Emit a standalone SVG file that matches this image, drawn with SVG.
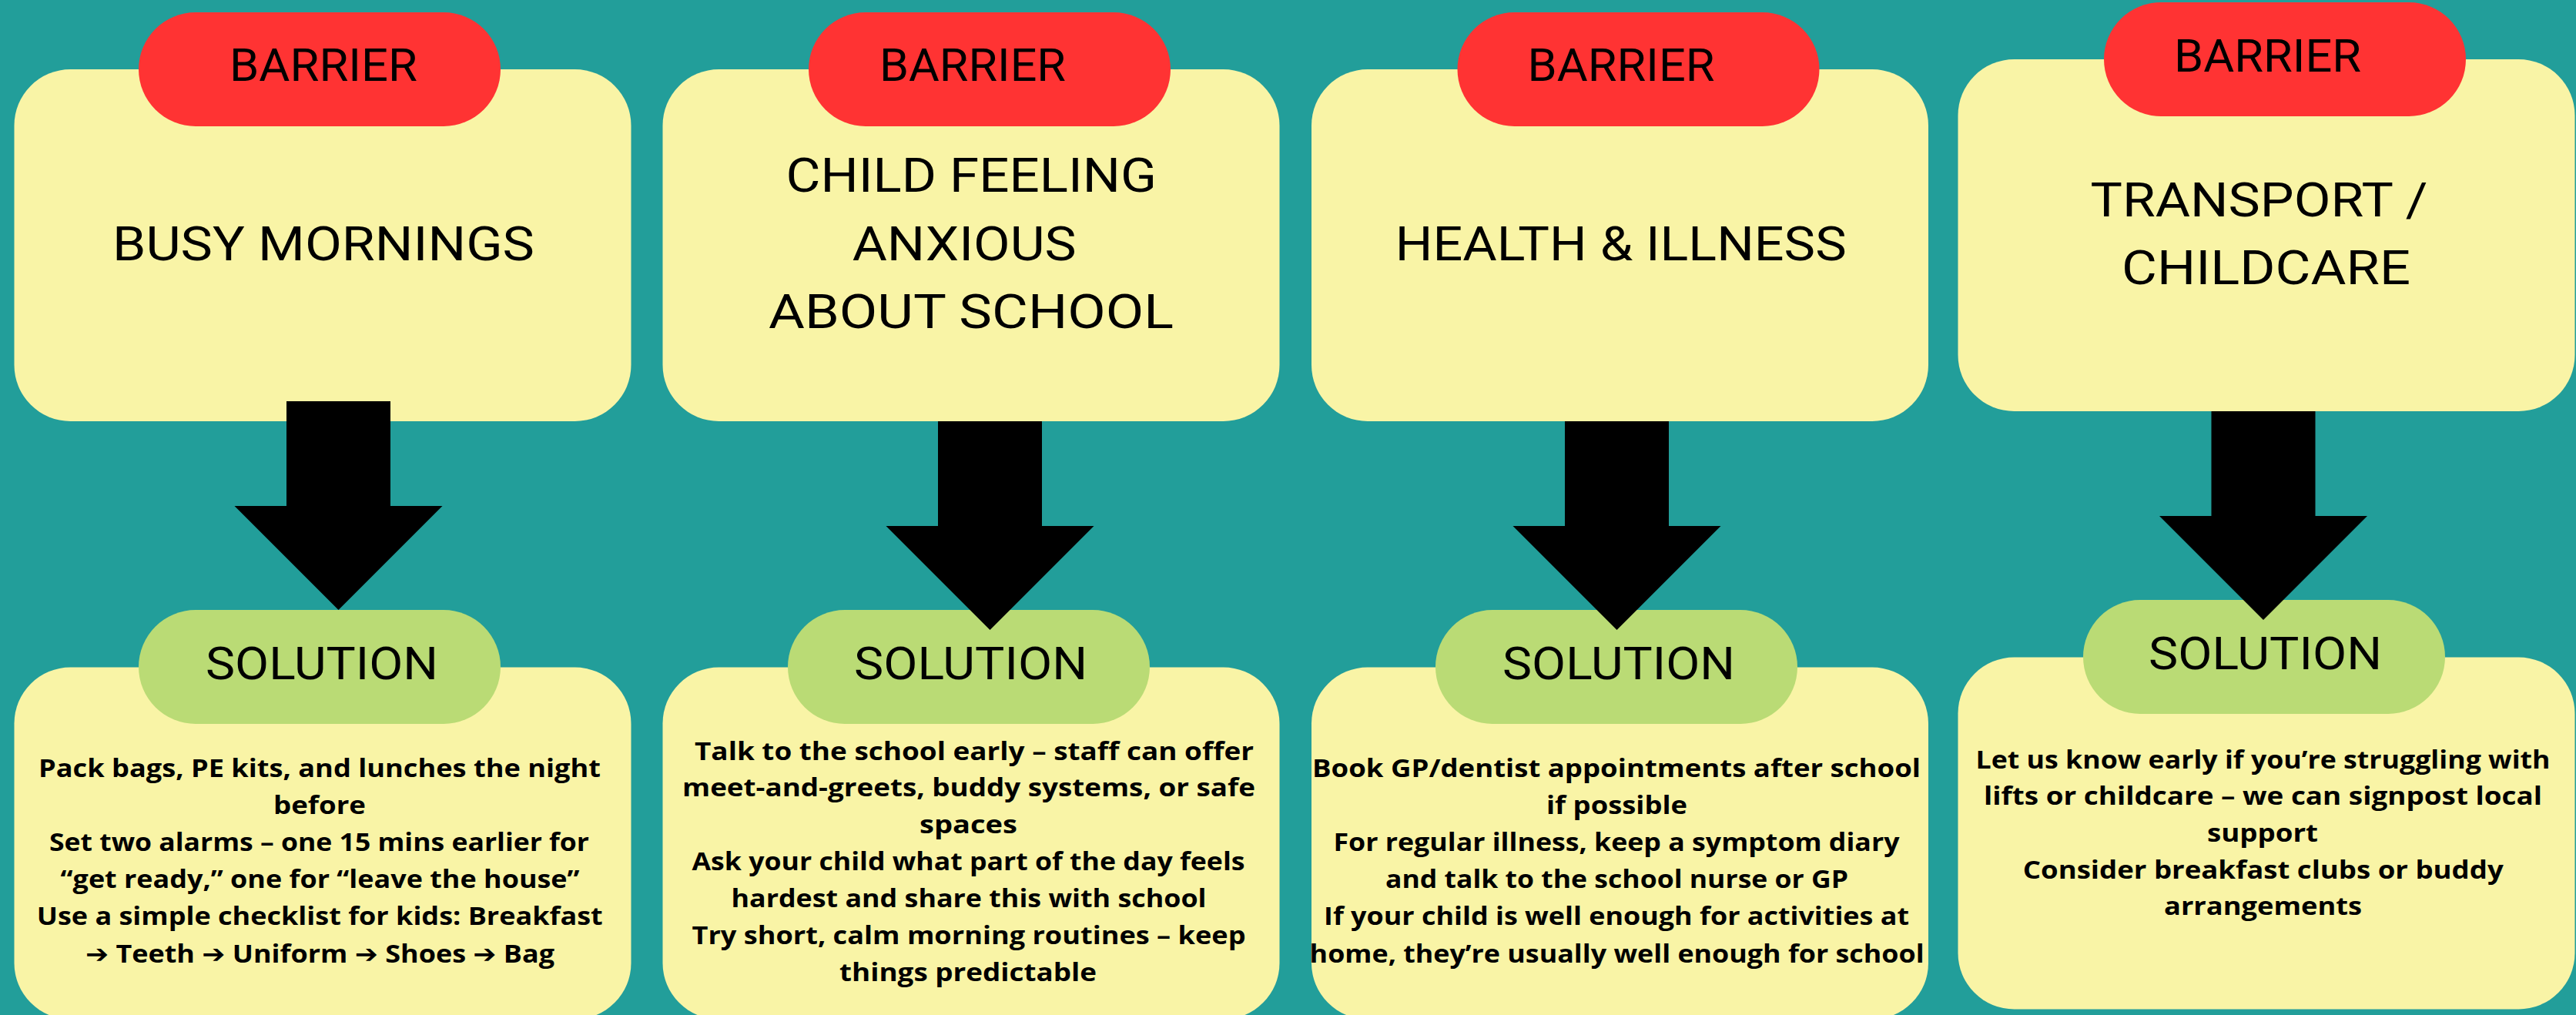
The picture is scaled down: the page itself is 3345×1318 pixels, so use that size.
<svg xmlns="http://www.w3.org/2000/svg" xmlns:xlink="http://www.w3.org/1999/xlink" width="3345" height="1318" viewBox="0 0 3345 1318">
<style>
.bg{fill:#229E9A}
.box{fill:#F9F4A6}
.red{fill:#FF3333}
.green{fill:#BADB75}
.tag{font-family:Roboto,"Liberation Sans",sans-serif;font-size:60px;fill:#000}
.title{font-family:Roboto,"Liberation Sans",sans-serif;font-size:62px;fill:#000}
.body{font-family:"Open Sans","DejaVu Sans",sans-serif;font-weight:700;font-size:33px;fill:#000}
.arrow{fill:#000}
</style>
<defs>
<path id="arrowShape" d="M-67.5,0 H67.5 V136 H135 L0,271 L-135,136 H-67.5 Z"/>
</defs>
<rect class="bg" x="0" y="0" width="3345" height="1318"/>

<g id="barrier1">
<rect class="box" x="18.5" y="90" width="801" height="457" rx="73"/>
<rect class="red" x="180" y="16" width="470" height="148" rx="74"/>
<text class="tag" x="298" y="105" textLength="244" lengthAdjust="spacingAndGlyphs">BARRIER</text>
<text class="title" x="146" y="337.5" textLength="548" lengthAdjust="spacingAndGlyphs">BUSY MORNINGS</text>
</g>
<g id="solution1">
<rect class="box" x="18.5" y="866.5" width="801" height="457" rx="73"/>
<rect class="green" x="180" y="792" width="470" height="148" rx="74"/>
<text class="tag" x="267" y="882.4" textLength="302" lengthAdjust="spacingAndGlyphs">SOLUTION</text>
<text class="body" x="50" y="1009" textLength="730" lengthAdjust="spacingAndGlyphs">Pack bags, PE kits, and lunches the night</text>
<text class="body" x="355" y="1057" textLength="120" lengthAdjust="spacingAndGlyphs">before</text>
<text class="body" x="64" y="1105" textLength="701" lengthAdjust="spacingAndGlyphs">Set two alarms – one 15 mins earlier for</text>
<text class="body" x="78.6" y="1153" textLength="674" lengthAdjust="spacingAndGlyphs">“get ready,” one for “leave the house”</text>
<text class="body" x="47.7" y="1201" textLength="735" lengthAdjust="spacingAndGlyphs">Use a simple checklist for kids: Breakfast</text>
<text class="body" x="111" y="1249.6" textLength="609" lengthAdjust="spacingAndGlyphs">➔ Teeth ➔ Uniform ➔ Shoes ➔ Bag</text>
</g>

<g id="barrier2">
<rect class="box" x="860.5" y="90" width="801" height="457" rx="73"/>
<rect class="red" x="1050" y="16" width="470" height="148" rx="74"/>
<text class="tag" x="1142" y="105" textLength="242" lengthAdjust="spacingAndGlyphs">BARRIER</text>
<text class="title" x="1020.5" y="249" textLength="481.5" lengthAdjust="spacingAndGlyphs">CHILD FEELING</text>
<text class="title" x="1106.7" y="337.5" textLength="291" lengthAdjust="spacingAndGlyphs">ANXIOUS</text>
<text class="title" x="998" y="426" textLength="526" lengthAdjust="spacingAndGlyphs">ABOUT SCHOOL</text>
</g>
<g id="solution2">
<rect class="box" x="860.5" y="866.5" width="801" height="457" rx="73"/>
<rect class="green" x="1023" y="792" width="470" height="148" rx="74"/>
<text class="tag" x="1109" y="882.4" textLength="303" lengthAdjust="spacingAndGlyphs">SOLUTION</text>
<text class="body" x="902" y="986.5" textLength="726" lengthAdjust="spacingAndGlyphs">Talk to the school early – staff can offer</text>
<text class="body" x="886" y="1034.4" textLength="744" lengthAdjust="spacingAndGlyphs">meet-and-greets, buddy systems, or safe</text>
<text class="body" x="1194" y="1082.3" textLength="127" lengthAdjust="spacingAndGlyphs">spaces</text>
<text class="body" x="898.5" y="1130.2" textLength="718" lengthAdjust="spacingAndGlyphs">Ask your child what part of the day feels</text>
<text class="body" x="949.5" y="1178.1" textLength="617" lengthAdjust="spacingAndGlyphs">hardest and share this with school</text>
<text class="body" x="898.5" y="1226" textLength="719" lengthAdjust="spacingAndGlyphs">Try short, calm morning routines – keep</text>
<text class="body" x="1090" y="1273.9" textLength="334" lengthAdjust="spacingAndGlyphs">things predictable</text>
</g>

<g id="barrier3">
<rect class="box" x="1703" y="90" width="801" height="457" rx="73"/>
<rect class="red" x="1892.5" y="16" width="470" height="148" rx="74"/>
<text class="tag" x="1983.5" y="105" textLength="243" lengthAdjust="spacingAndGlyphs">BARRIER</text>
<text class="title" x="1811.7" y="337.5" textLength="586" lengthAdjust="spacingAndGlyphs">HEALTH &amp; ILLNESS</text>
</g>
<g id="solution3">
<rect class="box" x="1703" y="866.5" width="801" height="457" rx="73"/>
<rect class="green" x="1864" y="792" width="470" height="148" rx="74"/>
<text class="tag" x="1951" y="882.4" textLength="302" lengthAdjust="spacingAndGlyphs">SOLUTION</text>
<text class="body" x="1704" y="1009" textLength="790" lengthAdjust="spacingAndGlyphs">Book GP/dentist appointments after school</text>
<text class="body" x="2008" y="1057" textLength="183" lengthAdjust="spacingAndGlyphs">if possible</text>
<text class="body" x="1731.5" y="1105" textLength="735" lengthAdjust="spacingAndGlyphs">For regular illness, keep a symptom diary</text>
<text class="body" x="1799" y="1153" textLength="601" lengthAdjust="spacingAndGlyphs">and talk to the school nurse or GP</text>
<text class="body" x="1719" y="1201" textLength="760" lengthAdjust="spacingAndGlyphs">If your child is well enough for activities at</text>
<text class="body" x="1700.6" y="1249.6" textLength="798" lengthAdjust="spacingAndGlyphs">home, they’re usually well enough for school</text>
</g>

<g id="barrier4">
<rect class="box" x="2542.5" y="77" width="801" height="457" rx="73"/>
<rect class="red" x="2732" y="3" width="470" height="148" rx="74"/>
<text class="tag" x="2823" y="92.6" textLength="243" lengthAdjust="spacingAndGlyphs">BARRIER</text>
<text class="title" x="2714.5" y="280.7" textLength="438" lengthAdjust="spacingAndGlyphs">TRANSPORT /</text>
<text class="title" x="2755" y="369" textLength="375" lengthAdjust="spacingAndGlyphs">CHILDCARE</text>
</g>
<g id="solution4">
<rect class="box" x="2542.5" y="853.5" width="801" height="457" rx="73"/>
<rect class="green" x="2705" y="779" width="470" height="148" rx="74"/>
<text class="tag" x="2790" y="868.6" textLength="303" lengthAdjust="spacingAndGlyphs">SOLUTION</text>
<text class="body" x="2565.5" y="997.8" textLength="746" lengthAdjust="spacingAndGlyphs">Let us know early if you’re struggling with</text>
<text class="body" x="2576" y="1045.4" textLength="725" lengthAdjust="spacingAndGlyphs">lifts or childcare – we can signpost local</text>
<text class="body" x="2866" y="1093" textLength="144" lengthAdjust="spacingAndGlyphs">support</text>
<text class="body" x="2626.7" y="1140.6" textLength="624" lengthAdjust="spacingAndGlyphs">Consider breakfast clubs or buddy</text>
<text class="body" x="2810" y="1188.2" textLength="257" lengthAdjust="spacingAndGlyphs">arrangements</text>
</g>

<g id="connectors">
<use xlink:href="#arrowShape" href="#arrowShape" class="arrow" x="439.5" y="521"/>
<use xlink:href="#arrowShape" href="#arrowShape" class="arrow" x="1285.5" y="547"/>
<use xlink:href="#arrowShape" href="#arrowShape" class="arrow" x="2099.5" y="547"/>
<use xlink:href="#arrowShape" href="#arrowShape" class="arrow" x="2939" y="534"/>
</g>
</svg>
